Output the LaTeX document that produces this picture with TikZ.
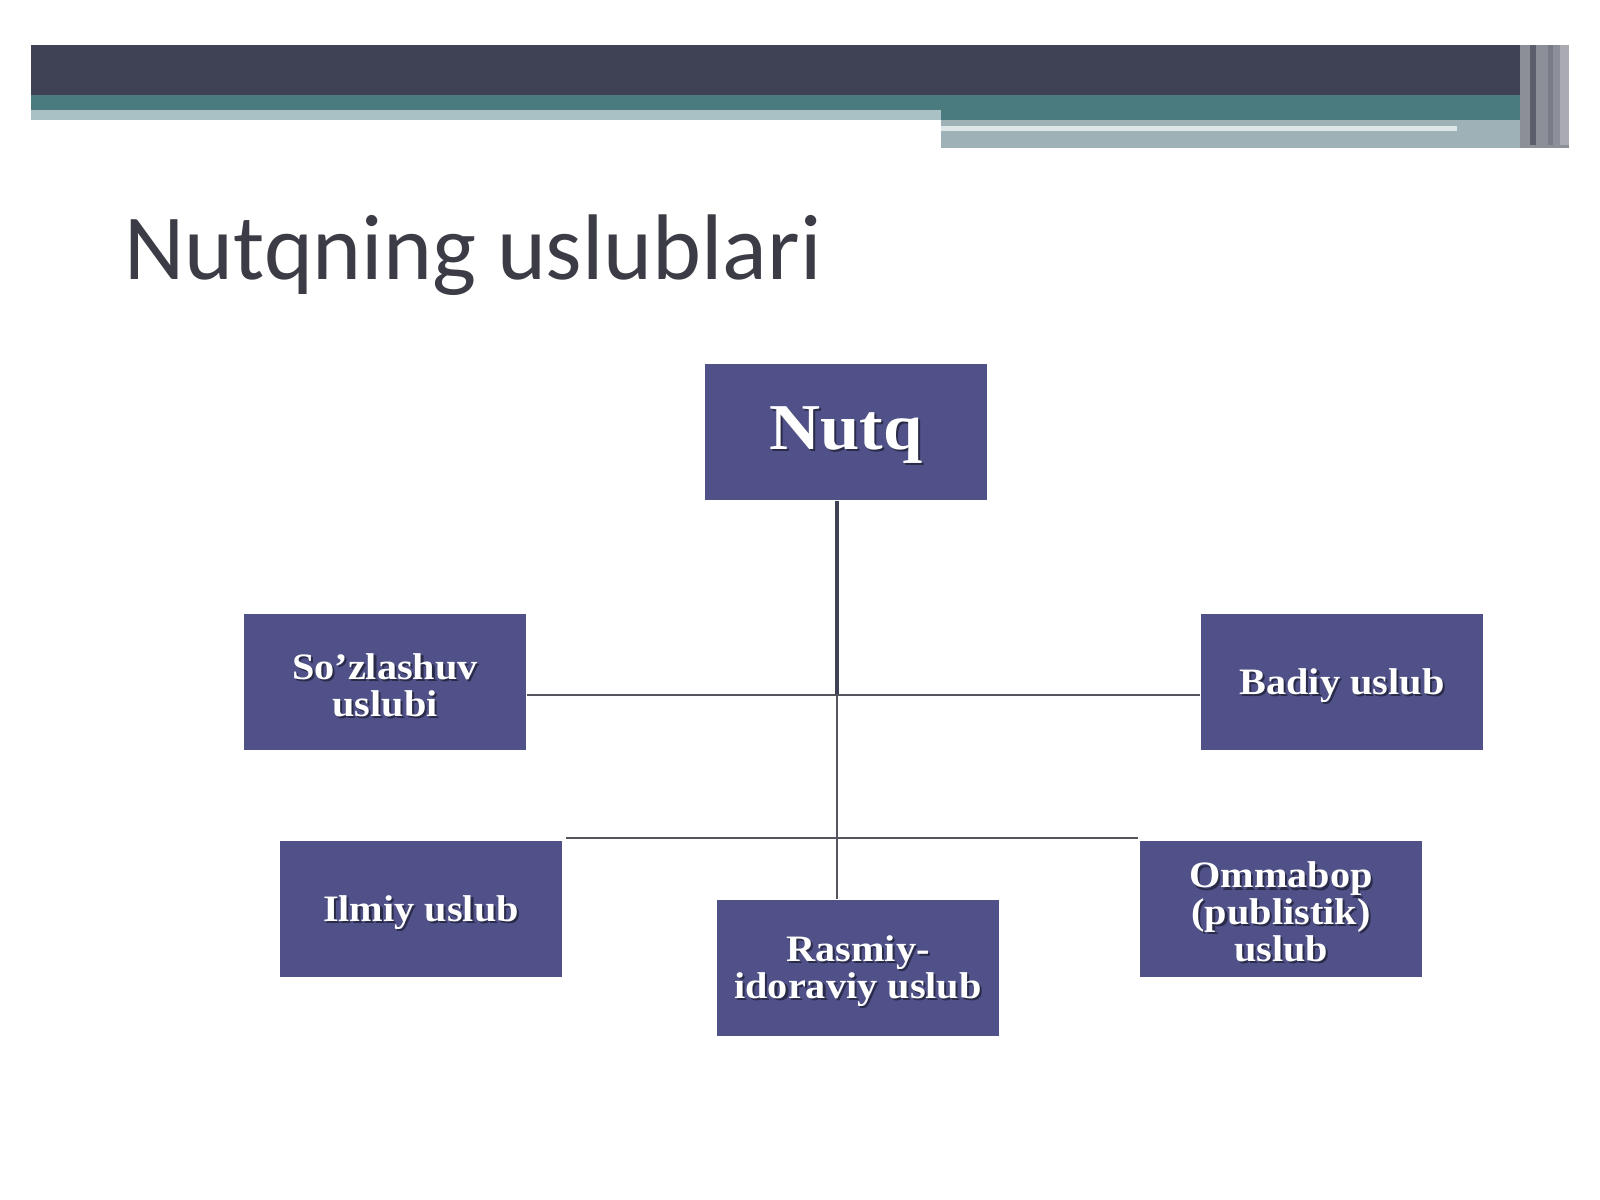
\documentclass[tikz,border=0pt]{standalone}
\usepackage{fontspec}
\setmainfont{Liberation Serif}
\newfontfamily\boxfont[FakeStretch=1.08]{Liberation Serif}
\newfontfamily\titlefont{Carlito}
\definecolor{boxblue}{HTML}{4F5188}
\definecolor{bardark}{HTML}{3F4254}
\definecolor{barteal}{HTML}{4A7B7E}
\definecolor{barlight}{HTML}{A9C0C4}
\definecolor{bargray}{HTML}{9EB1B6}
\definecolor{titlegray}{HTML}{3C3C46}
\definecolor{linegray}{HTML}{555560}
\definecolor{shadowc}{HTML}{2A2B48}
\newcommand\shl[1]{\raisebox{-1.2pt}[\height][\depth]{\rlap{\kern0.6pt\raisebox{-0.6pt}{\textcolor{shadowc}{#1}}}#1}}
\begin{document}
\begin{tikzpicture}[x=0.01cm,y=-0.01cm,
  box/.style={fill=boxblue,minimum width=2.82cm,minimum height=1.36cm,inner sep=0pt,
    text=white,font=\boxfont\bfseries\fontsize{10.6}{10.5}\selectfont,align=center},
  bigbox/.style={box,font=\boxfont\bfseries\fontsize{18.6}{20}\selectfont},
  thickline/.style={draw=bardark,line width=1.1pt},
  thinline/.style={draw=linegray,line width=0.7pt}]
\useasboundingbox[fill=white] (0,0) rectangle (1600,1200);
% header bar
\fill[bargray] (941,120) rectangle (1545,148);
\fill[white!60!barlight] (941,126) rectangle (1457,131);
\fill[barlight] (31,110) rectangle (941,120);
\fill[barteal] (31,95) rectangle (941,110);
\fill[barteal] (941,95) rectangle (1540,120);
\fill[bardark] (31,45) rectangle (1540,95);
\fill[bardark!60!white] (1520,45) rectangle (1569,148);
\fill[bardark!85] (1530,45) rectangle (1536,145);
\fill[bardark!70] (1548,45) rectangle (1553,145);
\fill[bardark!45] (1560,45) rectangle (1569,145);
% title
\node[anchor=base west,inner sep=0pt,text=titlegray,font=\titlefont\fontsize{26.5}{28}\selectfont] (title) at (124,279) {Nutqning uslublari};
% boxes
\node[bigbox] (nutq) at (846,432) {\shl{Nutq}};
\node[box] (soz) at (385,682) {\shl{So’zlashuv}\\\shl{uslubi}};
\node[box] (badiy) at (1342,682) {\shl{Badiy uslub}};
\node[box] (ilmiy) at (421,909) {\shl{Ilmiy uslub}};
\node[box] (rasmiy) at (858,968) {\shl{Rasmiy-}\\\shl{idoraviy uslub}};
\node[box] (ommabop) at (1281,909) {\shl{Ommabop}\\\shl{(publistik)}\\\shl{uslub}};
% connectors
\coordinate (hub) at (837,695);
\coordinate (lend) at (566,838);
\coordinate (rend) at (1138,838);
\draw[thickline] (nutq.south -| hub) -- (hub);
\draw[thinline] (soz.east |- hub) -- (badiy.west |- hub);
\draw[thinline] (hub) -- (rasmiy.north -| hub);
\draw[thinline] (lend) -- (rend);
\end{tikzpicture}
\end{document}
